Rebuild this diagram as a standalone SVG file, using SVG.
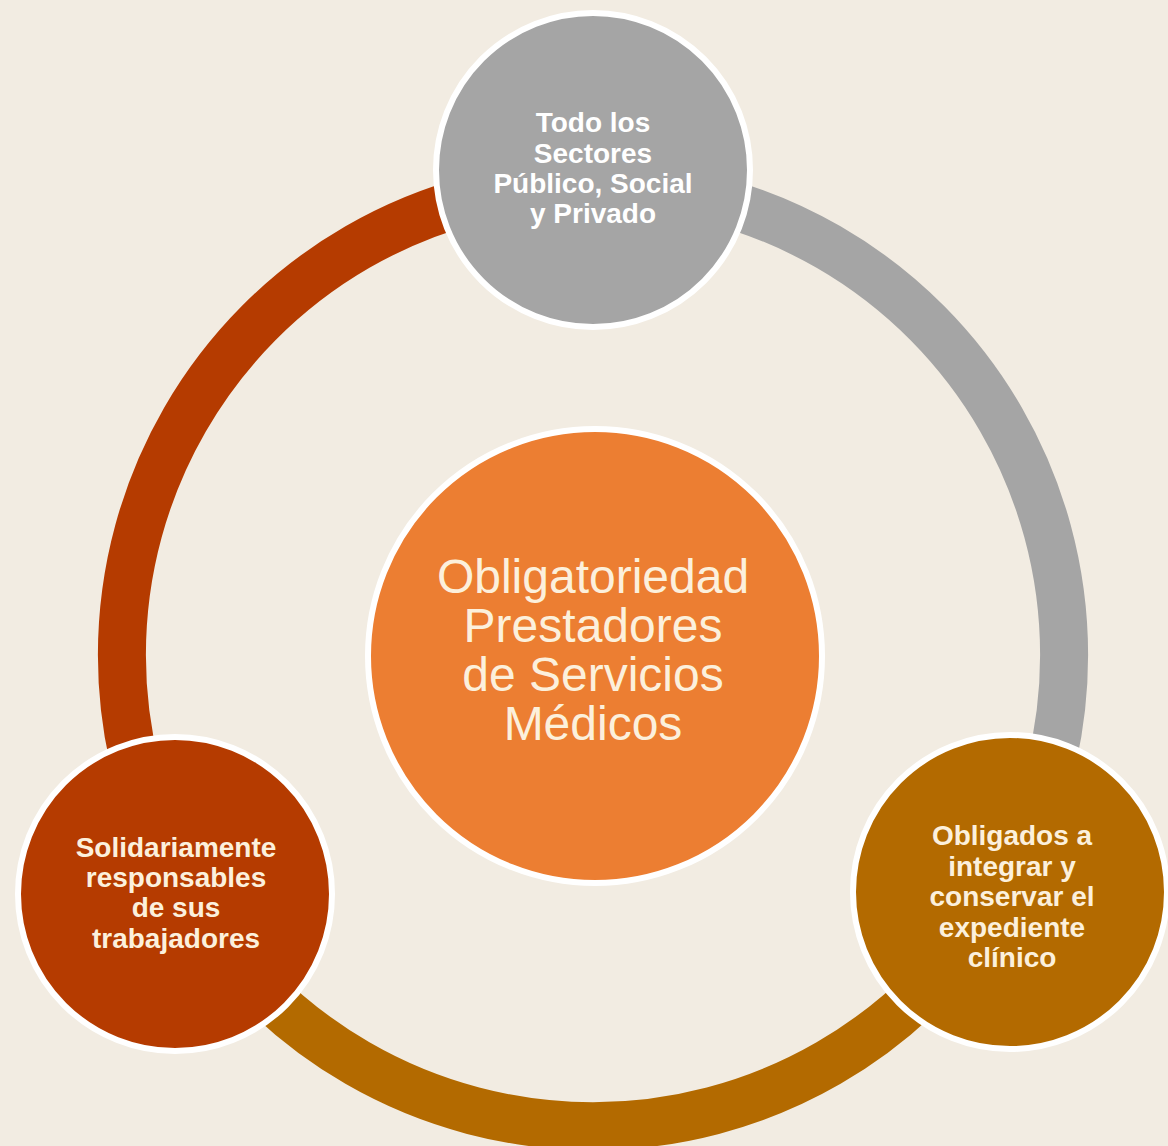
<svg xmlns="http://www.w3.org/2000/svg" width="1168" height="1146" viewBox="0 0 1168 1146">
<style>
.node{stroke:#FFFFFF;stroke-width:6}
.lbl{font-family:"Liberation Sans",Arial,sans-serif;font-weight:bold;font-size:28px;text-anchor:middle}
.ctr{font-family:"Liberation Sans",Arial,sans-serif;font-size:48px;text-anchor:middle;fill:#FCF0DC}
.arc{fill:none;stroke-width:48}
</style>
<rect width="1168" height="1146" fill="#F2ECE2"/>
<g id="connectors">
<path class="arc" stroke="#B53B00" d="M593 184 A471 471 0 0 0 185 890.5"/>
<path class="arc" stroke="#A5A5A5" d="M593 184 A471 471 0 0 1 1001 890.5"/>
<path class="arc" stroke="#B36A00" d="M185 890.5 A471 471 0 0 0 1001 890.5"/>
</g>
<g id="center">
<circle class="node" cx="595" cy="656" r="227" fill="#EC7E32"/>
<text class="ctr"><tspan x="593" y="593">Obligatoriedad</tspan><tspan x="593" y="642">Prestadores</tspan><tspan x="593" y="691">de Servicios</tspan><tspan x="593" y="740">Médicos</tspan></text>
</g>
<g id="top">
<circle class="node" cx="593" cy="170" r="157" fill="#A5A5A5"/>
<text class="lbl" fill="#FFFFFF"><tspan x="593" y="132">Todo los</tspan><tspan x="593" y="163">Sectores</tspan><tspan x="593" y="193">Público, Social</tspan><tspan x="593" y="223">y Privado</tspan></text>
</g>
<g id="left">
<circle class="node" cx="175" cy="894" r="157" fill="#B53B00"/>
<text class="lbl" fill="#FCF0DC"><tspan x="176" y="857">Solidariamente</tspan><tspan x="176" y="887">responsables</tspan><tspan x="176" y="917">de sus</tspan><tspan x="176" y="948">trabajadores</tspan></text>
</g>
<g id="right">
<circle class="node" cx="1010" cy="892" r="157" fill="#B36A00"/>
<text class="lbl" fill="#FCF0DC"><tspan x="1012" y="845">Obligados a</tspan><tspan x="1012" y="876">integrar y</tspan><tspan x="1012" y="906">conservar el</tspan><tspan x="1012" y="937">expediente</tspan><tspan x="1012" y="967">clínico</tspan></text>
</g>
</svg>
